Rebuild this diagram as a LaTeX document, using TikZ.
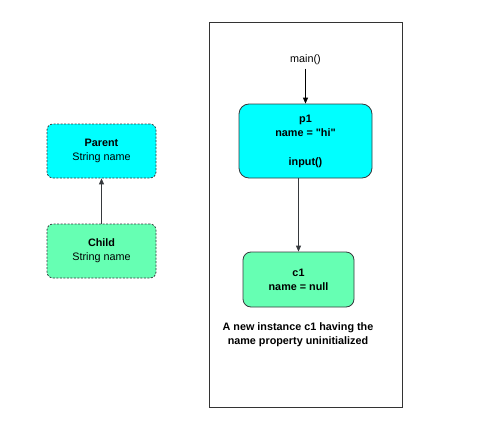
\documentclass[tikz,border=0pt]{standalone}
\usepackage{fontspec}
\setmainfont{Liberation Sans}
\usetikzlibrary{arrows.meta}
\definecolor{objcyan}{RGB}{0, 255, 255}
\definecolor{objgreen}{RGB}{102, 255, 179}
\definecolor{edgegray}{RGB}{54, 57, 61}

\newcommand{\txt}{\fontsize{10.8}{14.3}\selectfont}
\tikzset{
    classbox/.style={draw=edgegray, dash pattern=on 2pt off 1.5pt, line width=0.8pt,
        rounded corners=6pt, align=center,
        minimum width=109pt, minimum height=54pt, inner sep=0pt},
    objbox/.style={draw=edgegray, line width=0.8pt, rounded corners=10pt, align=center,
        inner sep=0pt, font=\bfseries\txt},
    link/.style={-{Triangle[length=6pt, width=5pt]}, line width=0.9pt}
}

\begin{document}
\begin{tikzpicture}[x=1pt, y=-1pt]
    \useasboundingbox (0,0) rectangle (500,444);

    % class side
    \node[classbox, fill=objcyan, font=\txt] (parent)
        at (101.5, 151) {\textbf{Parent}\\String name};
    \node[classbox, fill=objgreen, font=\txt] (child)
        at (101.5, 251) {\textbf{Child}\\String name};
    \draw[link, edgegray] (child) -- (parent);

    % runtime side
    \draw[line width=0.8pt, black!80] (209, 22) rectangle (402, 407);

    \node[font=\txt] (main) at (305.5, 60) {main()};
    \node[objbox, fill=objcyan, minimum width=133pt, minimum height=74pt] (p1)
        at (305.5, 141) {p1\\name = \textquotedbl hi\textquotedbl\\[14.3pt]input()};
    \node[objbox, fill=objgreen, rounded corners=8pt,
        minimum width=111pt, minimum height=55pt] (c1)
        at (298.5, 279.5) {c1\\name = null};

    \draw[link, black] (main) -- (p1);
    \draw[link, edgegray] (p1.south -| c1) -- (c1);

    \node[font=\bfseries\txt, align=center] (note)
        at (298, 334.5) {A new instance c1 having the\\name property uninitialized};

\end{tikzpicture}
\end{document}
